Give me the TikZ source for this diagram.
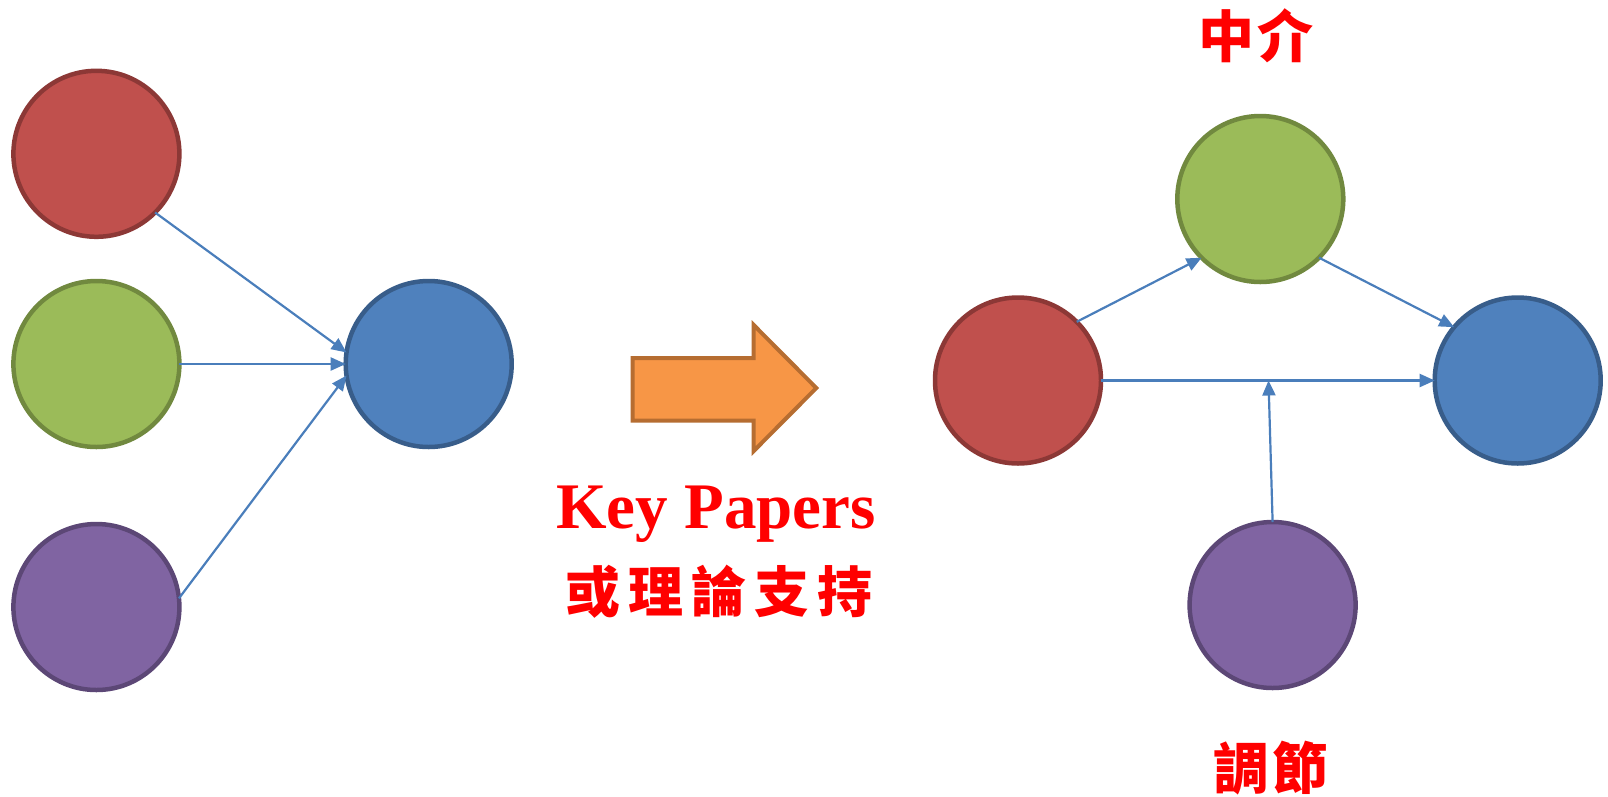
\documentclass[tikz,border=0pt]{standalone}
\usepackage{fontspec}
\setmainfont{Liberation Serif}
\newfontfamily\cjk{Noto Sans CJK TC}
\usetikzlibrary{arrows.meta}
\definecolor{cred}{HTML}{C0504D}\definecolor{bred}{HTML}{8C3836}
\definecolor{cgreen}{HTML}{9BBB59}\definecolor{bgreen}{HTML}{71893F}
\definecolor{cpurple}{HTML}{8064A2}\definecolor{bpurple}{HTML}{5C4776}
\definecolor{cblue}{HTML}{4F81BD}\definecolor{bblue}{HTML}{385D8A}
\definecolor{corange}{HTML}{F79646}\definecolor{borange}{HTML}{B66D31}
\definecolor{conn}{HTML}{4A7EBB}
\tikzset{
  ball/.style={circle,minimum size=166pt,inner sep=0pt,outer sep=0pt,line width=4.5pt},
  redball/.style={ball,fill=cred,draw=bred},
  greenball/.style={ball,fill=cgreen,draw=bgreen},
  purpleball/.style={ball,fill=cpurple,draw=bpurple},
  blueball/.style={ball,fill=cblue,draw=bblue},
  link/.style={draw=conn,line width=2.2pt,-{Triangle[length=15pt,width=13pt]}},
  label/.style={text=red,inner sep=0pt,font=\cjk\bfseries\fontsize{56}{60}\selectfont}
}
\begin{document}
\begin{tikzpicture}[x=1pt,y=-1pt]
\useasboundingbox (0,0) rectangle (1608,796);
% left side
\node[redball] (lr) at (96.4,153.8) {};
\node[greenball] (lg) at (96.4,364) {};
\node[purpleball] (lp) at (96.4,607) {};
\node[blueball] (lb) at (428.7,364) {};
\draw[link] (lr.-45) -- (lb.172);
\draw[link] (lg.east) -- (lb.west);
\draw[link] (lp.6) -- (lb.188);
% big arrow
\draw[fill=corange,draw=borange,line width=4pt,line join=miter]
  (632.7,358) -- (753.7,358) -- (753.7,325) -- (816.3,388) -- (753.7,451) -- (753.7,420.5) -- (632.7,420.5) -- cycle;
\node[text=red,inner sep=0pt,font=\bfseries\fontsize{65}{70}\selectfont] (kp) at (716,514) {Key Papers};
\node[label,font=\cjk\bfseries\fontsize{55}{60}\selectfont] (th) at (719,592) {或\hspace{8pt}理\hspace{8pt}論\hspace{8pt}支\hspace{8pt}持};
% right side
\node[greenball] (rg) at (1260.3,199) {};
\node[redball] (rr) at (1018,380.5) {};
\node[blueball] (rb) at (1517.7,380.5) {};
\node[purpleball] (rp) at (1272.6,605) {};
\coordinate (m) at (1268.5,380.5);
\draw[link] (rr.45) -- (rg.225);
\draw[link] (rg.-45) -- (rb.140);
\draw[link] (rr.east) -- (rb.west);
\draw[link] (rp.north) -- (m);
\node[label] (med) at (1256,36) {中\hspace{3pt}介};
\node[label] (mod) at (1271,768) {調\hspace{3pt}節};
\end{tikzpicture}
\end{document}
